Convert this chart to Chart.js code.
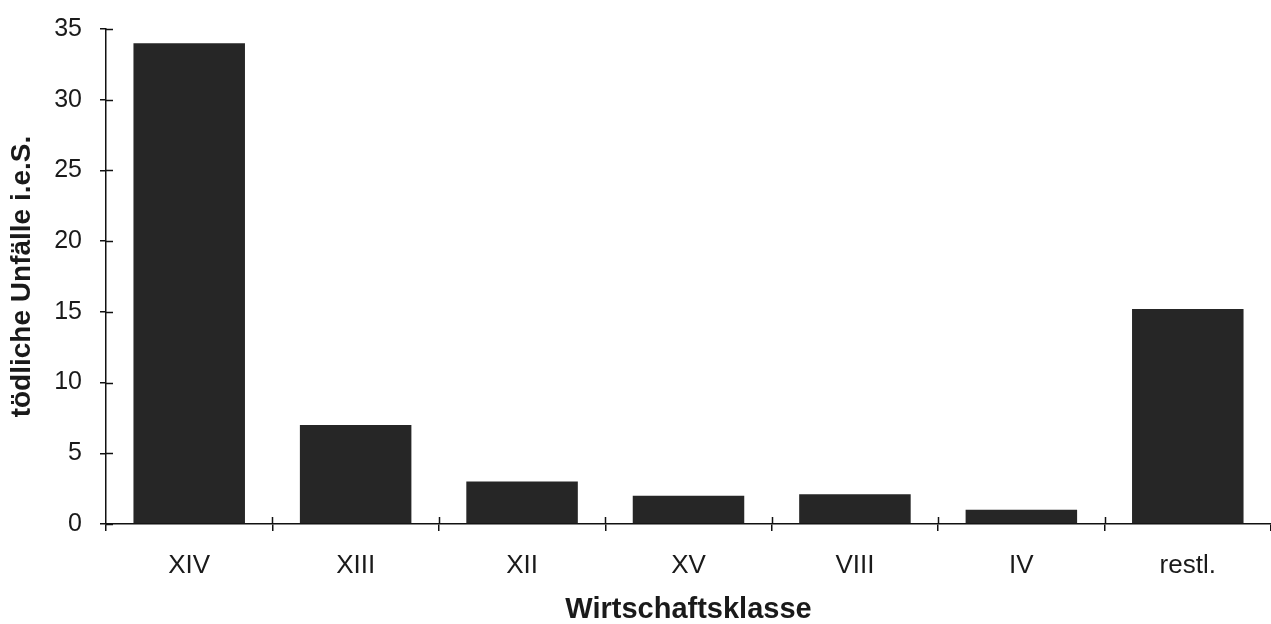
<!DOCTYPE html>
<html>
<head>
<meta charset="utf-8">
<script src="https://cdn.jsdelivr.net/npm/chart.js@4/dist/chart.umd.min.js"></script>
<style>
  html, body { margin: 0; padding: 0; background: #ffffff; }
  #wrap { width: 1271px; height: 624px; position: relative; }
</style>
</head>
<body>
<div id="wrap"><canvas id="c" width="1271" height="624"></canvas></div>
<script>
const categories = ["XIV", "XIII", "XII", "XV", "VIII", "IV", "restl."];
const values = [34, 7, 3, 2, 2.1, 1, 15.2];
const yTicks = [0, 5, 10, 15, 20, 25, 30, 35];
const xTitle = "Wirtschaftsklasse";
const yTitle = "tödliche Unfälle i.e.S.";

const FONT = "'Liberation Sans', Arial, Helvetica, sans-serif";

const innerTicks = {
  id: 'innerTicks',
  afterDraw(chart) {
    const ctx = chart.ctx;
    const x = chart.scales.x, y = chart.scales.y;
    ctx.save();
    ctx.strokeStyle = '#111';
    ctx.lineWidth = 1.5;
    ctx.beginPath();
    y.ticks.forEach((t, i) => {
      const py = Math.round(y.getPixelForTick(i)) + 0.5;
      ctx.moveTo(y.right, py);
      ctx.lineTo(y.right + 7, py);
    });
    for (let i = 1; i < categories.length; i++) {
      const px = Math.round((x.getPixelForValue(i - 1) + x.getPixelForValue(i)) / 2) + 0.5;
      ctx.moveTo(px, x.top - 7);
      ctx.lineTo(px, x.top);
    }
    ctx.stroke();
    ctx.restore();
  }
};

new Chart(document.getElementById('c'), {
  type: 'bar',
  data: {
    labels: categories,
    datasets: [{
      data: values,
      backgroundColor: '#262626',
      borderWidth: 0,
      categoryPercentage: 0.67,
      barPercentage: 1.0
    }]
  },
  options: {
    responsive: false,
    animation: false,
    devicePixelRatio: 1,
    layout: { padding: { top: 29, right: 0, left: 0, bottom: 0 } },
    plugins: { legend: { display: false }, tooltip: { enabled: false } },
    scales: {
      x: {
        offset: true,
        afterFit(s) { s.height = 100; s.paddingLeft = 0; s.paddingRight = 0; },
        border: { display: true, color: '#111', width: 1.5 },
        grid: { display: true, offset: true, drawOnChartArea: false, drawTicks: true, tickLength: 7, color: '#111', tickColor: '#111', lineWidth: 1.5 },
        ticks: { color: '#1a1a1a', font: { family: FONT, size: 26 }, padding: 19, maxRotation: 0 },
        title: { display: true, text: xTitle, color: '#1a1a1a', font: { family: FONT, size: 29, weight: 'bold', lineHeight: 1 }, padding: { top: 0, bottom: 0 } }
      },
      y: {
        min: 0,
        max: 35,
        afterFit(s) { s.width = 106; s.paddingTop = 0; s.paddingBottom = 0; },
        afterBuildTicks(s) { s.ticks = yTicks.map(v => ({ value: v })); },
        border: { display: true, color: '#111', width: 1.5 },
        grid: { display: true, drawOnChartArea: false, drawTicks: true, tickLength: 6, color: '#111', tickColor: '#111', lineWidth: 1.5 },
        ticks: { color: '#1a1a1a', font: { family: FONT, size: 25 }, padding: 18 },
        title: { display: true, text: yTitle, color: '#1a1a1a', font: { family: FONT, size: 28, weight: 'bold', lineHeight: 1 }, padding: { top: 8, bottom: 0 } }
      }
    }
  },
  plugins: [innerTicks]
});
</script>
</body>
</html>
